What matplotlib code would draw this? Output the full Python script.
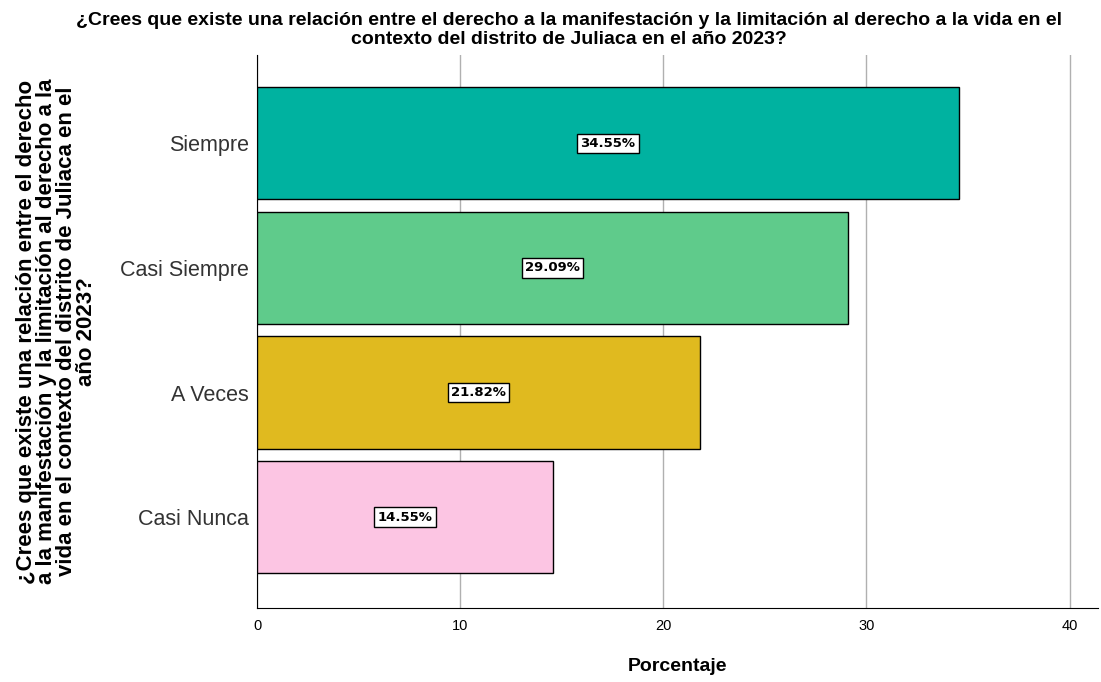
import matplotlib
matplotlib.use('Agg')
from matplotlib import pyplot as plt

categorias = ['Siempre', 'Casi Siempre', 'A Veces', 'Casi Nunca']
porcentajes = [34.55, 29.09, 21.82, 14.55]
colores = ['#00B2A0', '#5FCB8B', '#E0BA1F', '#FCC5E3']
xticks = [0, 10, 20, 30, 40]

titulo = ('¿Crees que existe una relación entre el derecho a la manifestación y la limitación al derecho a la vida en el\n'
          'contexto del distrito de Juliaca en el año 2023?')
ylabel = ('¿Crees que existe una relación entre el derecho\n'
          'a la manifestación y la limitación al derecho a la\n'
          'vida en el contexto del distrito de Juliaca en el\n'
          'año 2023?')

plt.rcParams['font.family'] = ['Liberation Sans', 'DejaVu Sans']

fig = plt.figure(figsize=(11.01, 6.82), dpi=100)
ax = fig.add_axes([257 / 1101, 1 - 608 / 682, (1098 - 257) / 1101, (608 - 55) / 682])

pos = list(range(len(categorias)))
ax.barh(pos, porcentajes, height=0.9, color=colores, edgecolor='black', linewidth=1, zorder=3)

for p, v in zip(pos, porcentajes):
    ax.text(v / 2, p, f'{v:.2f}%', ha='center', va='center', fontsize=9.5, fontweight='bold',
            family='DejaVu Sans',
            bbox=dict(boxstyle='square,pad=0.25', facecolor='white', edgecolor='black', linewidth=1),
            zorder=4)

ax.set_yticks(pos)
ax.set_yticklabels(categorias, fontsize=15.5, color='#333333')
ax.set_ylim(3.73, -0.71)
ax.set_xlim(0, 41.4)
ax.set_xticks(xticks)
ax.tick_params(axis='x', labelsize=10.5, length=0, pad=8)
ax.tick_params(axis='y', length=0, pad=6)
ax.xaxis.grid(True, color='#b0b0b0', linewidth=1, zorder=0)

for s in ['top', 'right']:
    ax.spines[s].set_visible(False)
ax.spines['left'].set_color('black')
ax.spines['bottom'].set_color('black')

ax.set_xlabel('Porcentaje', fontsize=14, fontweight='bold', labelpad=18)
ax.set_ylabel(ylabel, fontsize=16, fontweight='bold', linespacing=0.95)
ax.yaxis.set_label_coords(-0.19, 0.5)

fig.text(0.517, 0.983, titulo, ha='center', va='top', fontsize=14, fontweight='bold', linespacing=1.2)

plt.savefig('out.png', dpi=100)
